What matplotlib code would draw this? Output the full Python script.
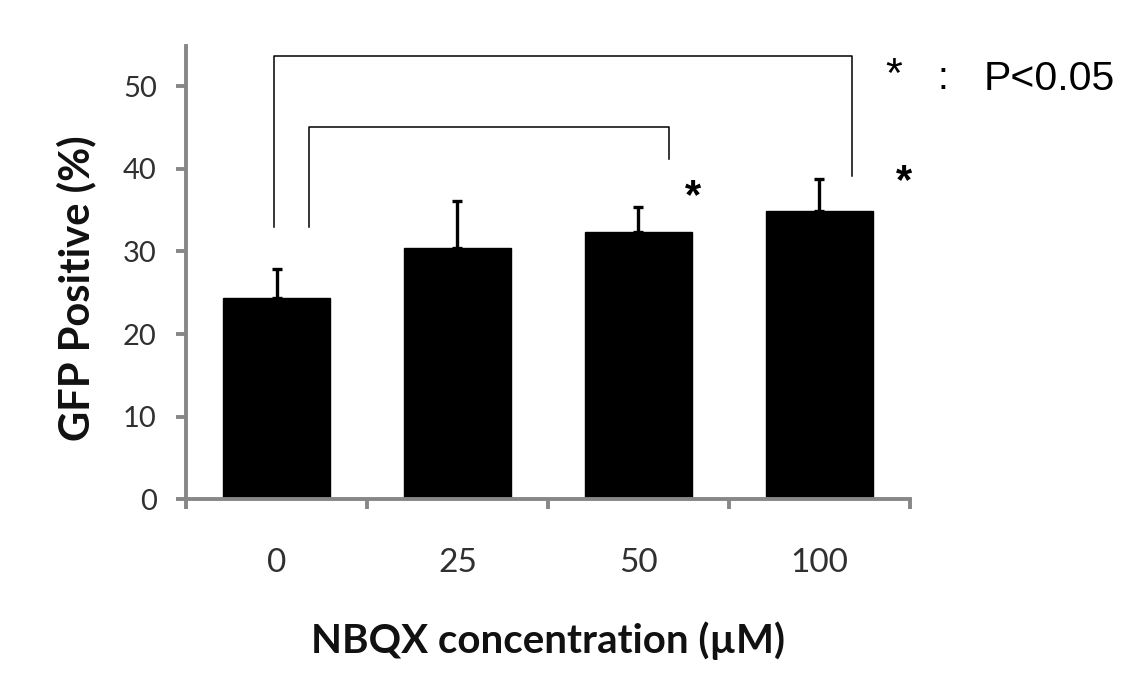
import matplotlib.pyplot as plt

# values
concentrations = ["0", "25", "50", "100"]
gfp_mean = [24.3, 30.4, 32.4, 34.9]
gfp_err = [3.6, 5.7, 3.0, 3.9]

AXIS_GREY = "#878787"
TEXT_GREY = "#303030"

fig = plt.figure(figsize=(11.24, 6.95), dpi=100)
ax = fig.add_axes([0.1655, 0.2816, 0.644, 0.654])

x = list(range(len(concentrations)))
ax.bar(x, gfp_mean, width=0.59, color="black", edgecolor="black", zorder=2)
ax.errorbar(x, gfp_mean, yerr=[[0] * len(gfp_err), gfp_err], fmt="none",
            ecolor="black", elinewidth=2.4, capsize=3.8, capthick=2.4, zorder=3)

ax.set_xlim(-0.5, 3.5)
ax.set_ylim(0, 55)
ax.set_yticks([0, 10, 20, 30, 40, 50])
ax.set_xticks([-0.5, 0.5, 1.5, 2.5, 3.5])
ax.set_xticklabels([])
ax.tick_params(axis="both", color=AXIS_GREY, width=2.8, length=7, direction="out")
ax.tick_params(axis="y", labelsize=21, labelcolor=TEXT_GREY, pad=14)
for lab in ax.get_yticklabels():
    lab.set_family("Lato")

for side in ["top", "right"]:
    ax.spines[side].set_visible(False)
for side in ["left", "bottom"]:
    ax.spines[side].set_color(AXIS_GREY)
    ax.spines[side].set_linewidth(2.8)
ax.spines["left"].set_bounds(0, 54.9)

# category labels sit well below the axis
for xi, lab in zip(x, concentrations):
    ax.text(xi, -7.7, lab, ha="center", va="center", fontsize=24,
            family="Lato", color=TEXT_GREY, clip_on=False)

ax.text(1.5, -17.1, "NBQX concentration (\u00b5M)", ha="center", va="center",
        fontsize=29, fontweight="bold", family="Lato", color="#111111",
        clip_on=False)
fig.text(0.068, 0.585, "GFP Positive (%)", rotation=90, ha="center",
         va="center", fontsize=30, fontweight="bold", family="Lato",
         color="#111111")

# significance brackets
ax.plot([-0.015, -0.015, 3.18, 3.18], [32.9, 53.6, 53.6, 39.1],
        color="black", lw=1.1, clip_on=False, zorder=4)
ax.plot([0.178, 0.178, 2.17, 2.17], [32.9, 45.1, 45.1, 41.2],
        color="black", lw=1.1, clip_on=False, zorder=4)
ax.text(2.30, 36.6, "*", ha="center", va="center", fontsize=30,
        fontweight="bold", family="Liberation Sans", clip_on=False)
ax.text(3.47, 38.4, "*", ha="center", va="center", fontsize=30,
        fontweight="bold", family="Liberation Sans", clip_on=False)

# key
ax.text(3.41, 51.2, "*", ha="center", va="center", fontsize=31,
        family="Liberation Sans", clip_on=False)
ax.text(3.68, 50.8, ":", ha="center", va="center", fontsize=28,
        family="Liberation Sans", clip_on=False)
ax.text(3.905, 50.8, "P<0.05", ha="left", va="center", fontsize=29.5,
        family="Liberation Sans", clip_on=False)

fig.savefig("out.png", dpi=100)
